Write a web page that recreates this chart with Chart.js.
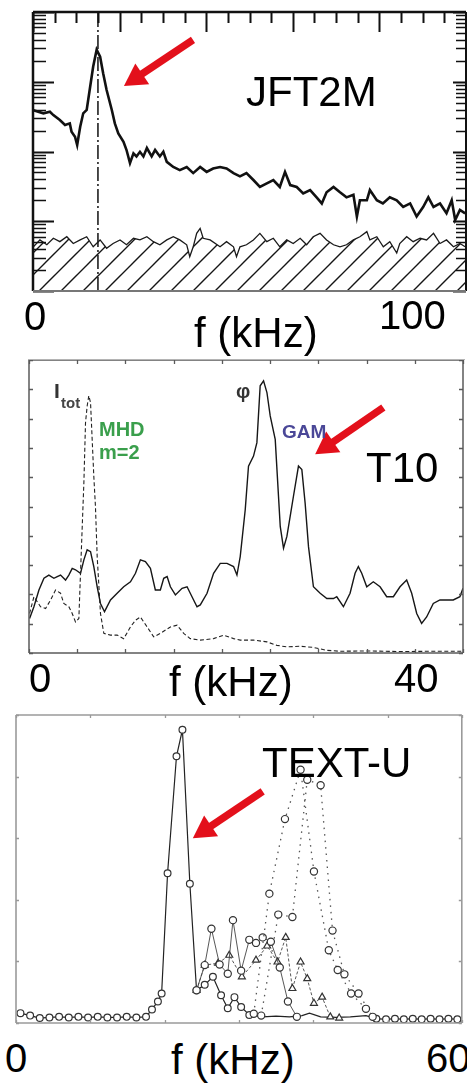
<!DOCTYPE html>
<html lang="en">
<head>
<meta charset="UTF-8" />
<title>GAM spectra: JFT2M, T10, TEXT-U</title>
<script src="https://cdn.jsdelivr.net/npm/chart.js"></script>
<style>
  body { margin: 0; background: #fff; font-family: "Liberation Sans", Arial, sans-serif; }
  #page { position: relative; width: 467px; height: 1083px; overflow: hidden; background: #fff; }
  canvas { position: absolute; left: 0; }
  .lbl { position: absolute; white-space: nowrap; line-height: 1; color: #000; }
  .big { font-size: 42px; }
  .tick { font-size: 40px; }
  .sep { position: absolute; left: 28px; top: 359px; width: 437px; height: 1px; background: #b4b4b4; }
</style>
</head>
<body>
<div id="page">
  <canvas id="jft" width="467" height="300" style="top:0"></canvas>
  <canvas id="t10" width="467" height="310" style="top:350px"></canvas>
  <canvas id="textu" width="467" height="325" style="top:705px"></canvas>

  <!-- panel 1 -->
  <div class="lbl big" style="left:246px;top:71px">JFT2M</div>
  <div class="lbl tick" style="left:24px;top:296px">0</div>
  <div class="lbl tick" style="left:379px;top:295px">100</div>
  <div class="lbl big" style="left:194px;top:312px">f (kHz)</div>
  <div class="sep"></div>

  <!-- panel 2 -->
  <div class="lbl" style="left:54px;top:380px;font-size:21px;font-weight:bold;color:#333">I</div>
  <div class="lbl" style="left:61px;top:395px;font-size:15px;font-weight:bold;color:#444">tot</div>
  <div class="lbl" style="left:236px;top:381px;font-size:20px;font-weight:bold;color:#333">φ</div>
  <div class="lbl" style="left:99px;top:419px;font-size:20px;font-weight:bold;color:#3a9f4c">MHD</div>
  <div class="lbl" style="left:99px;top:442px;font-size:20px;font-weight:bold;color:#3a9f4c">m=2</div>
  <div class="lbl" style="left:282px;top:422px;font-size:19px;font-weight:bold;color:#4a4797">GAM</div>
  <div class="lbl big" style="left:366px;top:447px">T10</div>
  <div class="lbl tick" style="left:29px;top:658px">0</div>
  <div class="lbl tick" style="left:394px;top:658px">40</div>
  <div class="lbl big" style="left:169px;top:661px">f (kHz)</div>

  <!-- panel 3 -->
  <div class="lbl big" style="left:262px;top:742px">TEXT-U</div>
  <div class="lbl tick" style="left:5px;top:1038px">0</div>
  <div class="lbl tick" style="left:426px;top:1038px">60</div>
  <div class="lbl big" style="left:171px;top:1039px">f (kHz)</div>
</div>

<script>
  // ---- JFT2M (log power vs f) ----
  const jftFreq = [0.1, 2.4, 3.9, 4.7, 6.2, 7.4, 8.5, 8.9, 9.7, 10.2, 10.9, 11.6, 12.4, 13.2, 13.9, 14.7, 15.5, 16.2, 17.0, 18.2,
    18.9, 19.7, 20.9, 21.6, 22.4, 23.2, 23.9, 24.7, 25.5, 26.3, 27.4, 28.2, 29.3, 30.1, 30.9, 32.4, 33.9, 35.5, 37.0, 38.6,
    40.1, 41.6, 43.2, 44.7, 46.3, 47.8, 49.3, 50.9, 52.4, 54.0, 55.5, 57.0, 58.2, 59.4, 60.9, 62.4, 64.0, 65.5, 66.7, 67.8,
    69.4, 70.9, 72.4, 74.0, 74.8, 75.5, 77.1, 77.8, 79.4, 80.8, 82.4, 84.0, 85.5, 87.1, 88.6, 90.1, 91.3, 92.5, 94.0, 95.5,
    96.7, 97.5, 98.6, 99.8];
  const jftSignal = [390, 353, 372, 333, 283, 240, 253, 192, 163, 124, 227, 353, 394, 849, 1650, 2870, 2280, 1320, 760, 394,
    253, 182, 138, 105, 68, 94, 85, 99, 85, 112, 85, 105, 85, 99, 71, 60, 54, 60, 49, 60,
    51, 57, 60, 57, 49, 44, 49, 39, 31, 35, 39, 31, 51, 33, 31, 25, 28, 22, 18, 26,
    31, 26, 22, 24, 11.7, 20, 20, 28, 20, 18, 22, 20, 16, 18, 11.7, 16, 22, 16, 18, 13,
    20, 10.4, 14.5, 13];
  const jftNoiseFreq = [0.1, 1.6, 3.2, 4.7, 6.2, 7.8, 9.3, 10.9, 12.4, 13.9, 15.5, 17.0, 18.5, 20.1, 21.6, 23.2, 24.7, 26.3, 27.8, 29.3,
    30.9, 32.4, 33.9, 35.5, 36.2, 37.0, 37.8, 38.6, 39.3, 40.9, 43.2, 44.7, 46.3, 47.0, 47.8, 49.3, 50.9, 52.4, 54.0, 55.5,
    57.0, 58.6, 60.1, 61.7, 63.2, 64.7, 66.3, 67.8, 69.4, 70.9, 72.4, 74.0, 75.5, 77.1, 77.8, 79.4, 80.9, 82.4, 84.0, 84.7,
    86.3, 87.8, 89.4, 90.9, 92.5, 94.0, 95.5, 97.1, 98.6, 99.8];
  const jftNoise = [4.3, 5.4, 4.6, 5.7, 5.1, 6.0, 4.8, 5.4, 6.0, 4.3, 5.4, 4.1, 4.8, 5.4, 4.6, 5.7, 5.4, 6.0, 5.1, 4.6,
    5.4, 6.0, 5.4, 4.6, 3.1, 4.3, 6.7, 7.9, 5.7, 5.4, 4.3, 5.1, 4.3, 3.1, 4.3, 4.6, 5.4, 6.7, 5.1, 5.7,
    4.3, 5.4, 4.8, 5.7, 4.6, 6.0, 6.7, 5.4, 4.6, 4.3, 4.6, 5.4, 6.0, 7.1, 5.4, 6.0, 4.3, 5.1, 3.5, 4.8,
    6.0, 5.1, 5.7, 5.4, 6.7, 4.8, 5.4, 4.3, 4.8, 4.3];
  const jftGamFreq = 15;

  // ---- T10 (linear) ----
  const t10PhiFreq = [0.06, 0.51, 1.03, 1.55, 2.06, 2.58, 2.93, 3.27, 3.79, 4.13, 4.48, 4.82, 5.34, 5.69, 6.03, 6.38, 6.72, 7.07, 7.41, 7.83,
    8.45, 9.14, 9.82, 10.52, 11.04, 11.55, 12.07, 12.59, 13.1, 13.62, 13.97, 14.32, 14.66, 15.18, 15.87, 16.39, 16.9, 17.42, 17.76, 18.46,
    19.14, 19.83, 20.53, 21.21, 21.56, 21.9, 22.42, 22.76, 23.28, 23.63, 23.97, 24.32, 24.67, 25.01, 25.53, 26.05, 26.39, 26.74, 27.08, 27.42,
    27.94, 28.29, 28.63, 28.98, 29.49, 30.19, 30.88, 31.57, 31.91, 32.6, 33.29, 33.81, 34.15, 34.5, 35.02, 35.7, 36.4, 37.09, 37.78, 38.47,
    39.16, 39.68, 40.2, 40.71, 41.23, 41.92, 42.61, 43.3, 43.99, 44.68, 45.0];
  const t10Phi = [1.18, 1.58, 2.15, 2.55, 2.66, 2.55, 2.61, 2.66, 2.49, 2.66, 2.89, 2.84, 2.72, 3.18, 3.52, 3.46, 2.95, 2.26, 1.69, 1.41,
    1.81, 2.04, 2.26, 2.43, 2.72, 3.18, 3.12, 2.89, 2.15, 2.15, 2.55, 2.61, 2.26, 1.98, 2.21, 2.26, 1.92, 1.58, 1.64, 2.04,
    2.72, 3.06, 3.06, 2.95, 2.66, 3.29, 4.89, 6.38, 6.72, 7.18, 9.12, 9.29, 8.89, 8.09, 7.29, 4.32, 3.58, 3.98, 4.66, 5.35,
    6.38, 6.26, 5.12, 3.63, 2.26, 2.04, 1.86, 1.86, 1.92, 1.58, 2.04, 2.72, 2.95, 2.72, 2.26, 2.43, 2.26, 1.92, 1.92, 2.26,
    2.49, 2.04, 1.35, 1.01, 1.23, 1.69, 1.81, 1.81, 1.81, 1.92, 2.21];
  const t10ItotFreq = [0.06, 0.51, 1.2, 1.72, 2.24, 2.75, 3.27, 3.61, 4.13, 4.48, 4.82, 5.17, 5.34, 5.52, 5.69, 5.86, 6.03, 6.2, 6.38, 6.55,
    6.72, 6.89, 7.07, 7.41, 7.76, 8.45, 9.14, 9.82, 10.52, 11.04, 11.55, 12.25, 12.93, 13.62, 14.66, 15.35, 16.04, 16.72, 17.76, 19.14,
    20.18, 21.21, 21.9, 23.28, 24.67, 25.7, 26.74, 28.11, 29.49, 30.88, 32.26, 35.02, 38.47, 41.92, 45.0];
  const t10Itot = [1.35, 1.92, 1.58, 1.52, 1.81, 2.15, 2.04, 1.69, 1.58, 1.35, 1.06, 1.18, 2.72, 4.32, 5.81, 7.86, 8.43, 8.78, 8.55, 7.29,
    6.03, 5.0, 3.29, 1.35, 0.67, 0.61, 0.61, 0.49, 0.89, 1.12, 1.23, 0.89, 0.55, 0.67, 0.89, 0.95, 0.67, 0.49, 0.44, 0.49,
    0.61, 0.49, 0.44, 0.44, 0.38, 0.26, 0.21, 0.23, 0.19, 0.09, 0.06, 0.07, 0.05, 0.06, 0.06];

  // ---- TEXT-U (linear, marker series) ----
  const textAFreq = [0.6, 1.9, 3.2, 4.5, 5.8, 7.1, 8.4, 9.7, 11.0, 12.3, 13.6, 14.9, 16.2, 17.5, 18.3, 19.1, 19.6, 20.4, 21.6, 22.4,
    23.4, 24.3, 25.4, 26.5, 27.6, 28.5, 29.4, 30.3, 31.4, 33.2, 35.0, 36.8, 38.5, 39.5, 41.0, 43.0, 45.0, 47.1, 48.5, 49.8,
    51.0, 52.2, 53.4, 54.6, 55.8, 57.0, 58.2, 59.4];
  const textA = [0.16, 0.12, 0.08, 0.09, 0.10, 0.09, 0.10, 0.09, 0.10, 0.09, 0.09, 0.10, 0.09, 0.10, 0.22, 0.35, 0.48, 2.43, 4.33, 4.76,
    2.26, 0.53, 0.62, 0.75, 0.45, 0.24, 0.42, 0.26, 0.13, 0.10, 0.11, 0.10, 0.12, 0.16, 0.10, 0.09, 0.10, 0.12, 0.07, 0.06,
    0.07, 0.06, 0.07, 0.06, 0.07, 0.06, 0.07, 0.06];
  const textBFreq = [24.3, 25.4, 27.2, 28.7, 30.4, 32.3, 33.8, 35.2, 36.3, 37.2, 38.3, 39.2, 40.1, 41.2, 42.3, 43.5];
  const textB = [0.53, 0.94, 0.97, 1.10, 0.75, 1.02, 1.25, 0.99, 1.39, 0.56, 0.99, 0.72, 0.32, 0.42, 0.10, 0.08];
  const textDFreq = [24.3, 25.4, 26.3, 27.4, 28.5, 29.2, 30.3, 31.4, 32.3, 33.2, 34.3, 35.5, 36.6, 37.8];
  const textD = [0.53, 0.94, 1.53, 0.95, 0.80, 1.67, 0.85, 1.35, 1.30, 1.39, 1.32, 0.90, 0.35, 0.10];
  const textC1Freq = [32.0, 34.1, 36.2, 38.3, 40.1, 42.1, 43.3, 45.1, 47.1];
  const textC1 = [0.15, 2.10, 3.31, 4.11, 2.46, 1.18, 0.86, 0.48, 0.23];
  const textC2Freq = [33.0, 35.3, 37.2, 39.2, 41.0, 42.6, 44.2, 46.1, 48.0];
  const textC2 = [0.12, 1.76, 1.72, 3.95, 3.86, 1.50, 0.79, 0.48, 0.10];

  const pts = (xs, ys) => xs.map((x, i) => ({ x: x, y: ys[i] }));
  const range = (a, b, s) => { const r = []; for (let v = a; v <= b + 1e-9; v += s) r.push(+v.toFixed(6)); return r; };

  // decade and 2..9 tick values for the log axis
  const logMajor = [1, 10, 100, 1000, 10000];
  const logMinor = [];
  [1, 10, 100, 1000].forEach(d => { for (let k = 2; k <= 9; k++) logMinor.push(k * d); });

  function hatchPattern() {
    const c = document.createElement('canvas');
    c.width = 22; c.height = 22;
    const g = c.getContext('2d');
    g.strokeStyle = '#151515';
    g.lineWidth = 1.4;
    g.beginPath();
    g.moveTo(-3, 25); g.lineTo(25, -3);
    g.moveTo(-3, 3); g.lineTo(3, -3);
    g.moveTo(19, 25); g.lineTo(25, 19);
    g.stroke();
    return g.createPattern(c, 'repeat');
  }

  // frame, inward ticks and the red arrow, all placed through the chart scales
  const boxPlugin = {
    id: 'box',
    afterDatasetsDraw(chart, args, opts) {
      const { ctx, chartArea: a } = chart;
      const sx = chart.scales.x, sy = chart.scales.y;
      ctx.save();
      ctx.lineCap = 'butt';
      (opts.ticks || []).forEach(t => {
        ctx.strokeStyle = t.color;
        ctx.lineWidth = t.width;
        ctx.beginPath();
        t.values.forEach(v => {
          if (t.side === 'top' || t.side === 'bottom') {
            const px = Math.round(sx.getPixelForValue(v)) + 0.5;
            const y0 = t.side === 'top' ? a.top : a.bottom;
            const d = t.side === 'top' ? 1 : -1;
            ctx.moveTo(px, y0); ctx.lineTo(px, y0 + d * t.len);
          } else {
            const py = Math.round(sy.getPixelForValue(v)) + 0.5;
            const x0 = t.side === 'left' ? a.left : a.right;
            const d = t.side === 'left' ? 1 : -1;
            ctx.moveTo(x0, py); ctx.lineTo(x0 + d * t.len, py);
          }
        });
        ctx.stroke();
      });
      (opts.sides || []).forEach(s => {
        ctx.strokeStyle = s.color;
        ctx.lineWidth = s.width;
        ctx.beginPath();
        if (s.side === 'top') { ctx.moveTo(a.left, a.top); ctx.lineTo(a.right, a.top); }
        if (s.side === 'bottom') { ctx.moveTo(a.left, a.bottom); ctx.lineTo(a.right, a.bottom); }
        if (s.side === 'left') { ctx.moveTo(a.left, a.top); ctx.lineTo(a.left, a.bottom); }
        if (s.side === 'right') { ctx.moveTo(a.right, a.top); ctx.lineTo(a.right, a.bottom); }
        ctx.stroke();
      });
      const ar = opts.arrow;
      if (ar) {
        const x0 = sx.getPixelForValue(ar.from[0]), y0 = sy.getPixelForValue(ar.from[1]);
        const x1 = sx.getPixelForValue(ar.to[0]), y1 = sy.getPixelForValue(ar.to[1]);
        const len = Math.hypot(x1 - x0, y1 - y0);
        const ux = (x1 - x0) / len, uy = (y1 - y0) / len;
        const bx = x1 - ux * ar.head, by = y1 - uy * ar.head;
        ctx.strokeStyle = ar.color;
        ctx.fillStyle = ar.color;
        ctx.lineWidth = ar.width;
        ctx.beginPath(); ctx.moveTo(x0, y0); ctx.lineTo(bx + ux * 2, by + uy * 2); ctx.stroke();
        ctx.beginPath();
        ctx.moveTo(x1, y1);
        ctx.lineTo(bx - uy * ar.half, by + ux * ar.half);
        ctx.lineTo(bx + uy * ar.half, by - ux * ar.half);
        ctx.closePath(); ctx.fill();
      }
      ctx.restore();
    }
  };
  Chart.register(boxPlugin);

  const baseOpts = (pad, xMin, xMax, yScale, box) => ({
    responsive: false,
    animation: false,
    events: [],
    layout: { padding: pad },
    scales: {
      x: { type: 'linear', min: xMin, max: xMax, display: false },
      y: Object.assign({ display: false }, yScale)
    },
    plugins: { legend: { display: false }, tooltip: { enabled: false }, box: box }
  });

  // ---- panel 1 ----
  const jftX = range(0, 100, 5);
  new Chart(document.getElementById('jft'), {
    type: 'line',
    data: {
      datasets: [
        { data: pts(jftNoiseFreq, jftNoise), borderColor: '#1a1a1a', borderWidth: 1.3, pointRadius: 0, tension: 0,
          fill: 'start', backgroundColor: hatchPattern() },
        { data: pts(jftFreq, jftSignal), borderColor: '#111', borderWidth: 2.6, pointRadius: 0, tension: 0, fill: false },
        { data: [{ x: jftGamFreq, y: 1 }, { x: jftGamFreq, y: 10000 }], borderColor: '#111', borderWidth: 1.5,
          borderDash: [14, 3, 2, 3], pointRadius: 0, fill: false }
      ]
    },
    options: baseOpts({ left: 33, right: 1, top: 12, bottom: 9 }, 0, 100,
      { type: 'logarithmic', min: 1, max: 10000 },
      {
        sides: [
          { side: 'top', color: '#111', width: 2.5 },
          { side: 'left', color: '#111', width: 2.5 },
          { side: 'right', color: '#111', width: 2 },
          { side: 'bottom', color: '#777', width: 2 }
        ],
        ticks: [
          { side: 'top', values: jftX.filter(v => v % 20 !== 0), len: 11, color: '#111', width: 2 },
          { side: 'top', values: jftX.filter(v => v % 20 === 0), len: 20, color: '#111', width: 2 },
          { side: 'left', values: logMinor, len: 13, color: '#111', width: 1.6 },
          { side: 'left', values: logMajor, len: 21, color: '#111', width: 1.8 },
          { side: 'right', values: logMinor, len: 10, color: '#111', width: 1.6 },
          { side: 'right', values: logMajor, len: 13, color: '#111', width: 1.8 }
        ],
        arrow: { from: [36.95, 3970], to: [21.0, 869], color: '#e3101b', width: 7.5, head: 22, half: 12.5 }
      })
  });

  // ---- panel 2 ----
  const t10X = range(0, 45, 5);
  const t10Y = range(0, 10, 1);
  new Chart(document.getElementById('t10'), {
    type: 'line',
    data: {
      datasets: [
        { data: pts(t10ItotFreq, t10Itot), borderColor: '#222', borderWidth: 1.1, borderDash: [4, 2.5],
          pointRadius: 0, tension: 0, fill: false },
        { data: pts(t10PhiFreq, t10Phi), borderColor: '#161616', borderWidth: 1.4, pointRadius: 0, tension: 0, fill: false }
      ]
    },
    options: baseOpts({ left: 29, right: 4, top: 10, bottom: 7 }, 0, 45,
      { type: 'linear', min: 0, max: 10 },
      {
        sides: ['top', 'bottom', 'left', 'right'].map(s => ({ side: s, color: '#5a5a5a', width: 1.5 })),
        ticks: [
          { side: 'top', values: t10X, len: 4, color: '#5a5a5a', width: 1.3 },
          { side: 'bottom', values: t10X, len: 4, color: '#5a5a5a', width: 1.3 },
          { side: 'left', values: t10Y, len: 4, color: '#5a5a5a', width: 1.3 },
          { side: 'right', values: t10Y, len: 4, color: '#5a5a5a', width: 1.3 }
        ],
        arrow: { from: [36.74, 8.38], to: [29.67, 6.78], color: '#e3101b', width: 7.5, head: 22, half: 12.5 }
      })
  });

  // ---- panel 3 ----
  const textX = range(0, 60, 10);
  const textY = range(0, 5, 1);
  const mk = { pointBackgroundColor: '#fff', pointBorderColor: '#333', pointBorderWidth: 1.2, tension: 0, fill: false };
  new Chart(document.getElementById('textu'), {
    type: 'line',
    data: {
      datasets: [
        Object.assign({ data: pts(textC1Freq, textC1), borderColor: '#555', borderWidth: 1.3, borderDash: [1.5, 5],
          pointStyle: 'circle', pointRadius: 3.6 }, mk),
        Object.assign({ data: pts(textC2Freq, textC2), borderColor: '#555', borderWidth: 1.3, borderDash: [1.5, 5],
          pointStyle: 'circle', pointRadius: 3.6 }, mk),
        Object.assign({ data: pts(textDFreq, textD), borderColor: '#444', borderWidth: 0.9,
          pointStyle: 'circle', pointRadius: 3.6 }, mk),
        Object.assign({ data: pts(textBFreq, textB), borderColor: '#444', borderWidth: 0.9, borderDash: [3, 2],
          pointStyle: 'triangle', pointRadius: 4 }, mk),
        Object.assign({ data: pts(textAFreq, textA), borderColor: '#222', borderWidth: 1.2, pointStyle: 'circle',
          pointRadius: c => (c.raw && c.raw.x > 32 && c.raw.x < 48) ? 0 : 3.4 }, mk)
      ]
    },
    options: baseOpts({ left: 16, right: 4, top: 10, bottom: 7 }, 0, 60,
      { type: 'linear', min: 0, max: 5 },
      {
        sides: ['top', 'bottom', 'left', 'right'].map(s => ({ side: s, color: '#9a9a9a', width: 1.6 })),
        ticks: [
          { side: 'top', values: textX, len: 3, color: '#999', width: 1.3 },
          { side: 'bottom', values: textX, len: 3, color: '#999', width: 1.3 },
          { side: 'left', values: textY, len: 3, color: '#999', width: 1.3 },
          { side: 'right', values: textY, len: 3, color: '#999', width: 1.3 }
        ],
        arrow: { from: [33.2, 3.76], to: [23.8, 3.0], color: '#e3101b', width: 7.5, head: 22, half: 12.5 }
      })
  });
</script>
</body>
</html>
